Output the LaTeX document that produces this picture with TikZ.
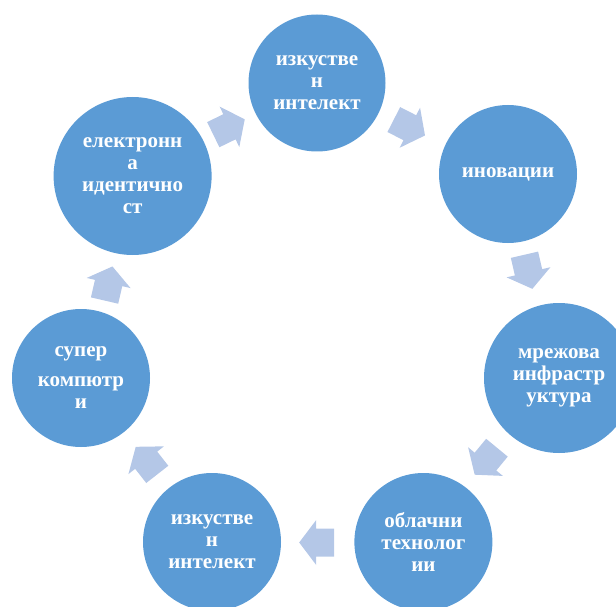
\documentclass[tikz,border=0pt]{standalone}
\usepackage{fontspec}
\setmainfont{Liberation Serif}
\definecolor{circblue}{HTML}{5B9BD5}
\definecolor{arrblue}{HTML}{B4C7E7}
\tikzset{
  bubble/.style={circle, fill=circblue, draw=none, inner sep=0pt, text=white,
    align=center, font=\fontsize{21}{22}\selectfont\bfseries},
  blockarrow/.style={fill=arrblue, draw=none}
}
\newcommand\cyclearrow[4]{% name, x, y, angle
  \coordinate (#1) at (#2,#3);
  \fill[blockarrow, shift={(#1)}, rotate=#4]
    (-17.5,-14) -- (0.5,-14) -- (0.5,-22.5) -- (17.5,0) -- (0.5,22.5) -- (0.5,14) -- (-17.5,14) -- cycle;}
\begin{document}
\begin{tikzpicture}[x=1pt,y=-1pt]
\useasboundingbox (0,0) rectangle (616,607);
\node[bubble, minimum size=137pt] (ai1) at (317,83) {изкустве\\н\\интелект};
\node[bubble, minimum size=138pt] (inov) at (508,174) {иновации};
\node[bubble, minimum size=150pt] (net) at (559,378) {мрежова\\инфрастр\\уктура};
\node[bubble, minimum size=138pt] (cloud) at (423.4,542) {облачни\\технолог\\ии};
\node[bubble, minimum size=138pt] (ai2) at (212,542) {изкустве\\н\\интелект};
\node[bubble, minimum size=138pt] (super) at (81,378) {супер\\[8pt]компютр\\и};
\node[bubble, minimum size=158pt] (eid) at (132.6,176) {електронн\\а\\идентично\\ст};
\cyclearrow{a1}{229}{127}{26}
\cyclearrow{a2}{409.4}{127.5}{-27}
\cyclearrow{a3}{528.4}{271.8}{-77}
\cyclearrow{a4}{485.8}{461.2}{-129.5}
\cyclearrow{a5}{316.7}{542.5}{180}
\cyclearrow{a6}{146.5}{460.6}{128}
\cyclearrow{a7}{108.5}{283.5}{77}
\end{tikzpicture}
\end{document}
